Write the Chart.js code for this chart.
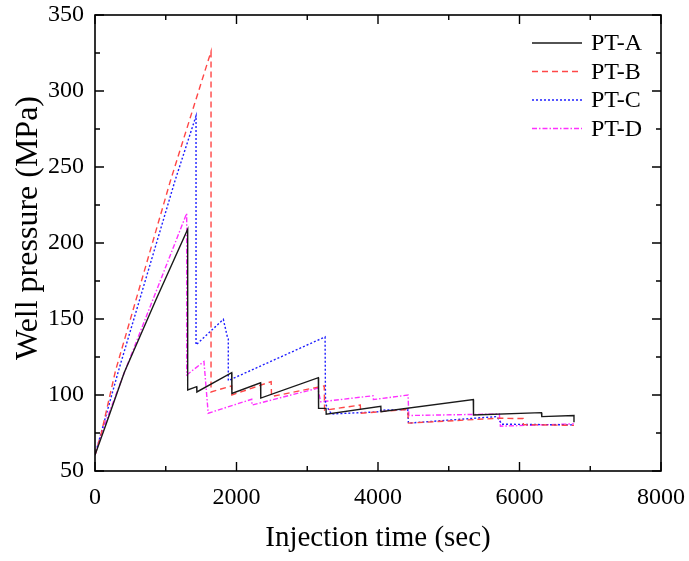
<!DOCTYPE html>
<html>
<head>
<meta charset="utf-8">
<script src="https://cdn.jsdelivr.net/npm/chart.js@4.4.1/dist/chart.umd.min.js"></script>
<style>
  html, body { margin: 0; padding: 0; background: #ffffff; }
  #wrap { width: 689px; height: 561px; }
</style>
</head>
<body>
<div id="wrap"><canvas id="c" width="689" height="561"></canvas></div>
<script>
// ---- Data ----
const seriesNames = ['PT-A', 'PT-B', 'PT-C', 'PT-D'];

const timeA  = [0, 150, 415, 860, 1310, 1310, 1437, 1440, 1932, 1935, 2340, 2343, 3157, 3160, 3265, 3268, 4040, 4043, 5347, 5350, 6310, 6315, 6770, 6770];
const pressA = [60.5, 80, 115, 162.5, 209, 103.3, 105.5, 102, 114.7, 101, 108, 98, 111.4, 91.2, 91.2, 87.3, 92.5, 89, 97, 86.8, 88.4, 85.8, 86.5, 82];

const timeB  = [0, 80, 290, 1060, 1640, 1640, 1932, 1935, 2490, 2495, 3240, 3245, 3750, 3755, 4420, 4430, 5700, 6050, 6055, 6770];
const pressB = [60.5, 73, 116, 240, 326, 102, 106, 100, 108.8, 99, 106, 90, 93.4, 88, 90.5, 81.5, 84.7, 84.5, 80.5, 80];

const timeC  = [0, 80, 335, 1131, 1428, 1428, 1814, 1870, 1884, 1884, 3252, 3258, 3340, 4030, 4040, 4420, 4430, 5680, 5750, 6770];
const pressC = [60.5, 74, 116.4, 241, 283.6, 133, 149.8, 138.4, 137, 109.5, 138.2, 94, 87.5, 89, 90, 90.5, 81.5, 85.8, 80.8, 80.3];

const timeD  = [0, 100, 428, 1296, 1296, 1540, 1600, 2215, 2220, 3150, 3190, 3930, 3935, 4425, 4435, 5715, 5730, 6770];
const pressD = [60.5, 76, 116.4, 219.5, 113.2, 122, 88, 97.2, 93.4, 104.5, 95.5, 99.5, 97, 100, 86.5, 87.5, 79.5, 81];

const xTicks = [0, 2000, 4000, 6000, 8000];
const yTicks = [50, 100, 150, 200, 250, 300, 350];
const xTitle = 'Injection time (sec)';
const yTitle = 'Well pressure (MPa)';

// ---- Styles ----
const FONT = "'Liberation Serif', 'Times New Roman', serif";
const styles = [
  { color: '#1a1a1a', dash: [] },
  { color: '#ff4747', dash: [6, 4] },
  { color: '#1f1fff', dash: [2, 2] },
  { color: '#ff30ff', dash: [5, 2, 1.5, 2] }
];

function toPoints(xs, ys) { return xs.map((x, i) => ({ x: x, y: ys[i] })); }
const allTimes = [timeA, timeB, timeC, timeD];
const allPress = [pressA, pressB, pressC, pressD];

const datasets = seriesNames.map((name, i) => ({
  label: name,
  data: toPoints(allTimes[i], allPress[i]),
  borderColor: styles[i].color,
  borderDash: styles[i].dash,
  borderWidth: 1.4,
  pointRadius: 0,
  fill: false,
  tension: 0
}));

// Box, inward ticks, y title and in-plot legend
const framePlugin = {
  id: 'frame',
  afterDraw(chart) {
    const { ctx, chartArea: a, scales } = chart;
    const xs = scales.x, ys = scales.y;
    ctx.save();
    ctx.strokeStyle = '#000';
    ctx.lineWidth = 1.6;
    ctx.strokeRect(a.left, a.top, a.right - a.left, a.bottom - a.top);
    ctx.lineWidth = 1.4;
    ctx.beginPath();
    for (let v = 0; v <= 8000; v += 1000) {
      const px = xs.getPixelForValue(v);
      const len = (v % 2000 === 0) ? 9 : 5;
      ctx.moveTo(px, a.bottom); ctx.lineTo(px, a.bottom - len);
      ctx.moveTo(px, a.top); ctx.lineTo(px, a.top + len);
    }
    for (let v = 50; v <= 350; v += 25) {
      const py = ys.getPixelForValue(v);
      const len = (v % 50 === 0) ? 9 : 5;
      ctx.moveTo(a.left, py); ctx.lineTo(a.left + len, py);
      ctx.moveTo(a.right, py); ctx.lineTo(a.right - len, py);
    }
    ctx.stroke();

    // y axis title
    ctx.save();
    ctx.translate(29, 228);
    ctx.rotate(-Math.PI / 2);
    ctx.font = "32px " + FONT;
    ctx.fillStyle = '#000';
    ctx.textAlign = 'center';
    ctx.textBaseline = 'middle';
    ctx.fillText(yTitle, 0, 0);
    ctx.restore();

    // legend
    const lx0 = 532, lx1 = 582, tx = 591;
    const rows = [43, 71.5, 100, 128.5];
    ctx.font = "24px " + FONT;
    ctx.textBaseline = 'middle';
    ctx.textAlign = 'left';
    chart.data.datasets.forEach((ds, i) => {
      ctx.strokeStyle = ds.borderColor;
      ctx.lineWidth = 1.4;
      ctx.setLineDash(ds.borderDash || []);
      ctx.beginPath();
      ctx.moveTo(lx0, rows[i]); ctx.lineTo(lx1, rows[i]);
      ctx.stroke();
      ctx.setLineDash([]);
      ctx.fillStyle = '#000';
      ctx.fillText(ds.label, tx, rows[i] + 1);
    });
    ctx.restore();
  }
};

new Chart(document.getElementById('c'), {
  type: 'line',
  data: { datasets: datasets },
  options: {
    responsive: false,
    animation: false,
    devicePixelRatio: 1,
    layout: { padding: { top: 15, right: 28, left: 0, bottom: 0 } },
    plugins: { legend: { display: false }, tooltip: { enabled: false } },
    scales: {
      x: {
        type: 'linear',
        min: 0, max: 8000,
        grid: { display: false, drawTicks: false },
        border: { display: false },
        afterBuildTicks(scale) { scale.ticks = xTicks.map(v => ({ value: v })); },
        afterFit(scale) { scale.height = 90; scale.paddingLeft = 0; scale.paddingRight = 0; },
        ticks: { color: '#000', font: { family: FONT, size: 24 }, padding: 12, maxRotation: 0, callback: v => String(v) },
        title: { display: true, text: xTitle, color: '#000', font: { family: FONT, size: 29 }, padding: { top: 0, bottom: 5 } }
      },
      y: {
        type: 'linear',
        min: 50, max: 350,
        grid: { display: false, drawTicks: false },
        border: { display: false },
        afterBuildTicks(scale) { scale.ticks = yTicks.map(v => ({ value: v })); },
        afterFit(scale) { scale.width = 95; scale.paddingTop = 0; scale.paddingBottom = 0; },
        ticks: { color: '#000', font: { family: FONT, size: 24 }, padding: 11, callback: v => String(v) },
        title: { display: false }
      }
    }
  },
  plugins: [framePlugin]
});
</script>
</body>
</html>
